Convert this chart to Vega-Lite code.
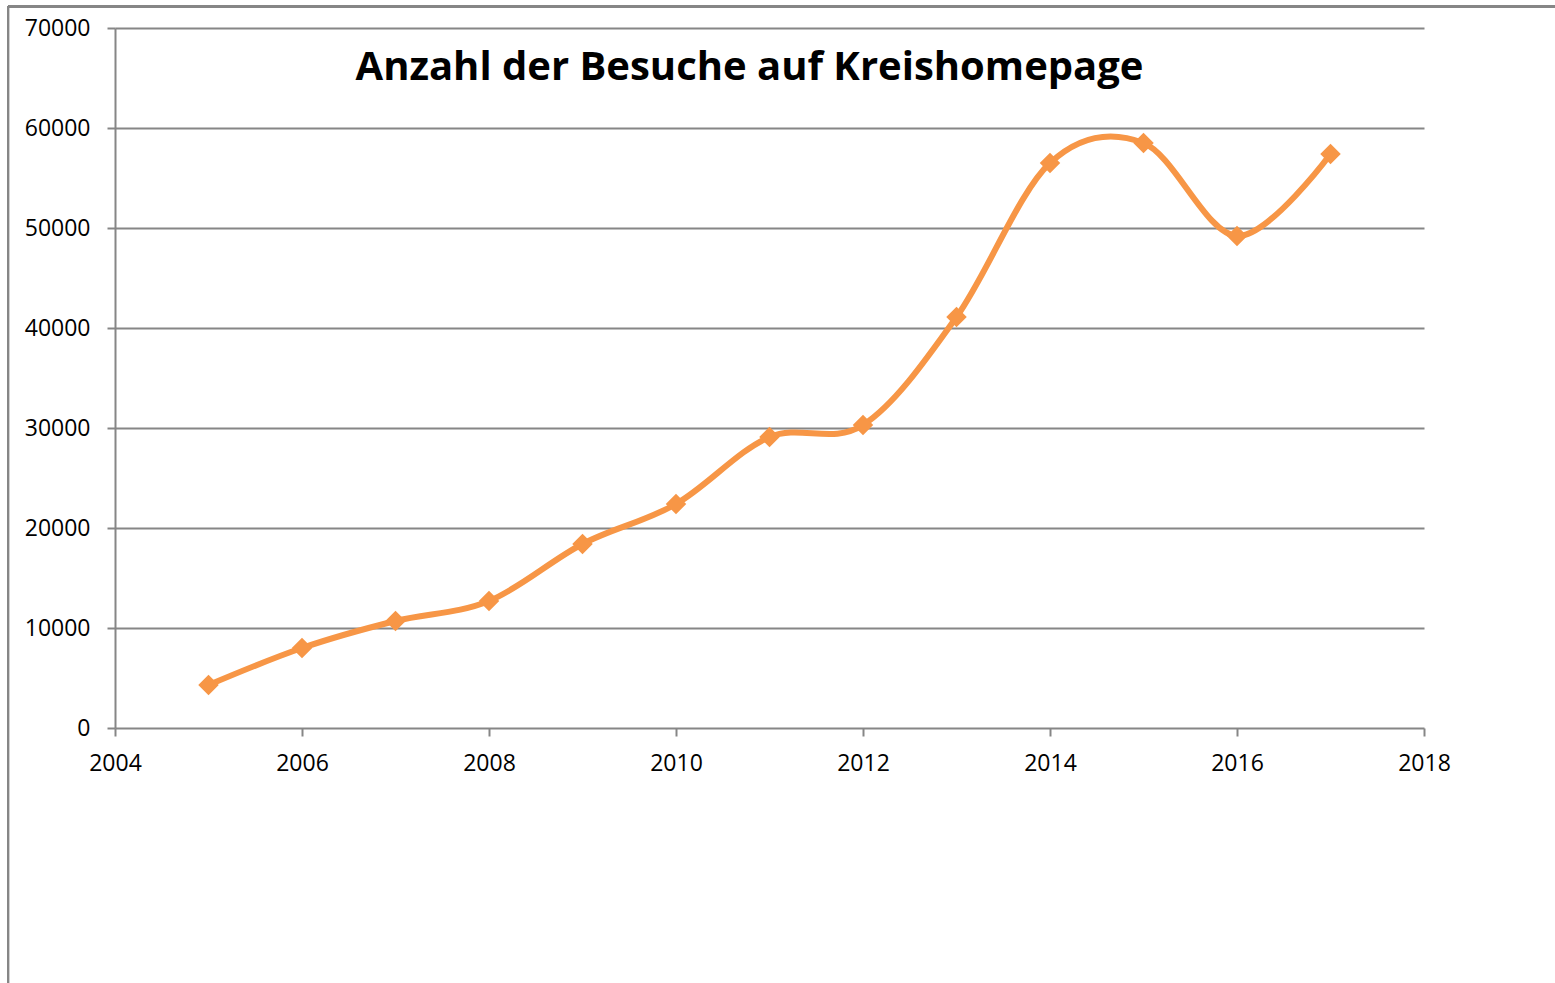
{
  "$schema": "https://vega.github.io/schema/vega-lite/v6.json",
  "width": 1309,
  "height": 700,
  "autosize": {"type": "none"},
  "padding": {"left": 115, "top": 28, "right": 131, "bottom": 255},
  "background": "white",
  "config": {
    "view": {"stroke": null},
    "font": "Open Sans"
  },
  "title": {
    "text": "Anzahl der Besuche auf Kreishomepage",
    "font": "Open Sans",
    "fontSize": 40,
    "fontWeight": "bold",
    "color": "#000000",
    "anchor": "middle",
    "frame": "group",
    "dx": -20,
    "offset": -114,
    "baseline": "alphabetic"
  },
  "data": {
    "values": [
      {"year": 2005, "visits": 4300},
      {"year": 2006, "visits": 8000},
      {"year": 2007, "visits": 10700},
      {"year": 2008, "visits": 12700},
      {"year": 2009, "visits": 18400},
      {"year": 2010, "visits": 22400},
      {"year": 2011, "visits": 29100},
      {"year": 2012, "visits": 30300},
      {"year": 2013, "visits": 41100},
      {"year": 2014, "visits": 56500},
      {"year": 2015, "visits": 58500},
      {"year": 2016, "visits": 49200},
      {"year": 2017, "visits": 57400}
    ]
  },
  "layer": [
    {
      "mark": {"type": "rule", "color": "#868686", "strokeWidth": 2, "clip": false},
      "encoding": {
        "x": {"datum": 2002.856, "type": "quantitative", "scale": {"domain": [2004, 2018], "nice": false, "zero": false}},
        "y": {"datum": 72150, "type": "quantitative", "scale": {"domain": [0, 70000], "nice": false}},
        "x2": {"datum": 2022}
      }
    },
    {
      "mark": {"type": "rule", "color": "#868686", "strokeWidth": 2, "clip": false},
      "encoding": {
        "x": {"datum": 2002.856, "type": "quantitative"},
        "y": {"datum": 72150, "type": "quantitative"},
        "y2": {"datum": -30000}
      }
    },
    {
      "mark": {"type": "line", "interpolate": "cardinal", "color": "#F79646", "strokeWidth": 6},
      "encoding": {
        "x": {
          "field": "year",
          "type": "quantitative",
          "scale": {"domain": [2004, 2018], "nice": false, "zero": false},
          "axis": {
            "title": null,
            "values": [2004, 2006, 2008, 2010, 2012, 2014, 2016, 2018],
            "format": "d",
            "grid": false,
            "domain": false,
            "ticks": true,
            "tickColor": "#868686",
            "tickWidth": 2,
            "tickSize": 8,
            "labelFont": "Open Sans",
            "labelFontSize": 23,
            "labelColor": "#000000",
            "labelPadding": 16,
            "labelFlush": false
          }
        },
        "y": {
          "field": "visits",
          "type": "quantitative",
          "scale": {"domain": [0, 70000], "nice": false},
          "axis": {
            "title": null,
            "values": [0, 10000, 20000, 30000, 40000, 50000, 60000, 70000],
            "format": "d",
            "grid": true,
            "gridColor": "#868686",
            "gridWidth": 2,
            "domain": true,
            "domainColor": "#868686",
            "domainWidth": 2,
            "ticks": true,
            "tickColor": "#868686",
            "tickWidth": 2,
            "tickSize": 8,
            "labelFont": "Open Sans",
            "labelFontSize": 23,
            "labelColor": "#000000",
            "labelPadding": 17,
            "labelFlush": false
          }
        }
      }
    },
    {
      "mark": {"type": "point", "shape": "diamond", "filled": true, "color": "#F79646", "size": 420, "opacity": 1},
      "encoding": {
        "x": {"field": "year", "type": "quantitative"},
        "y": {"field": "visits", "type": "quantitative"}
      }
    }
  ]
}
